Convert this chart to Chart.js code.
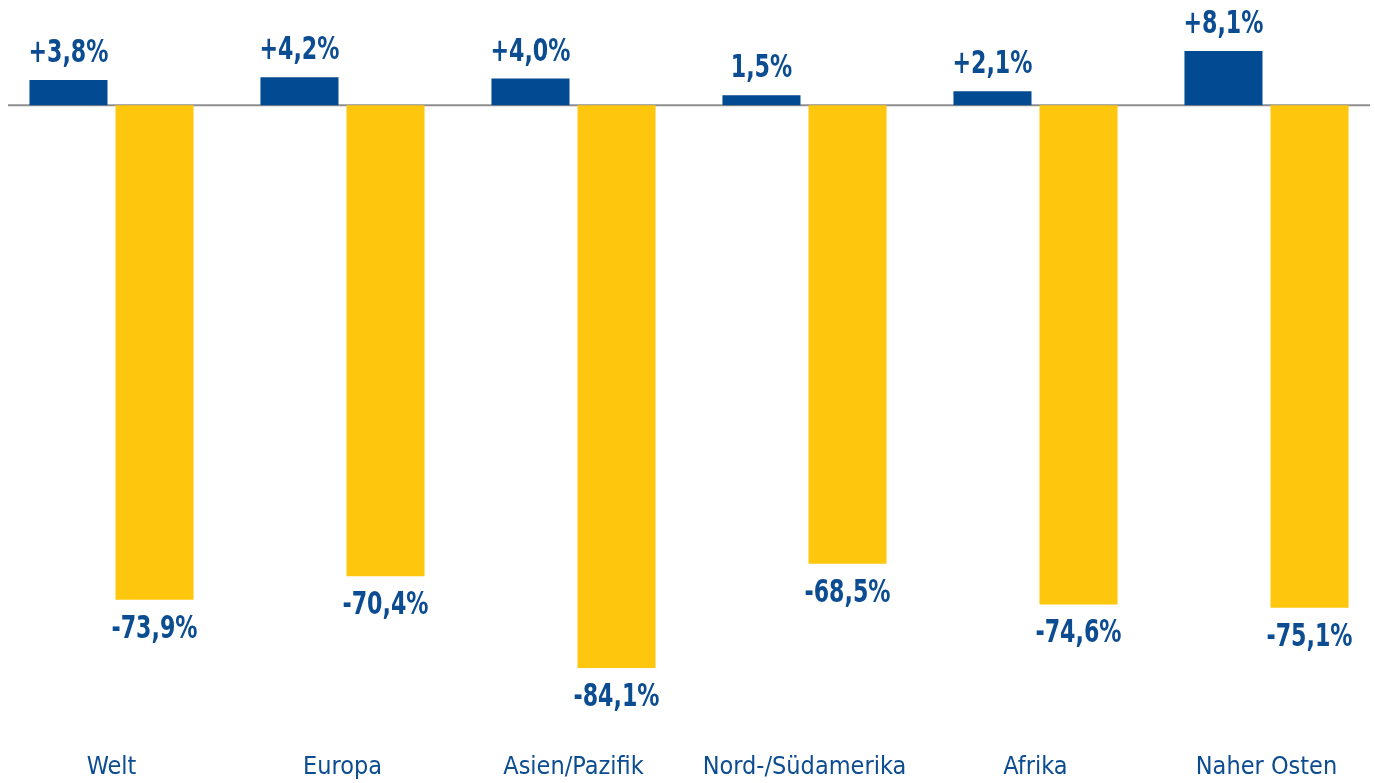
<!DOCTYPE html>
<html lang="de">
<head>
<meta charset="utf-8">
<title>Veränderung nach Regionen</title>
<script src="https://cdn.jsdelivr.net/npm/chart.js@4/dist/chart.umd.min.js"></script>
<style>
    html, body { margin: 0; padding: 0; background: #fff; overflow: hidden; }
    #wrap { position: absolute; left: -4px; top: 0; width: 1386px; height: 783px; }
</style>
</head>
<body>
<div id="wrap"><canvas id="regionChart" width="1386" height="783"></canvas></div>
<script>
const regions = ['Welt', 'Europa', 'Asien/Pazifik', 'Nord-/Südamerika', 'Afrika', 'Naher Osten'];
const growth = [3.8, 4.2, 4.0, 1.5, 2.1, 8.1];
const decline = [-73.9, -70.4, -84.1, -68.5, -74.6, -75.1];
const growthLabels = ['+3,8%', '+4,2%', '+4,0%', '1,5%', '+2,1%', '+8,1%'];
const declineLabels = ['-73,9%', '-70,4%', '-84,1%', '-68,5%', '-74,6%', '-75,1%'];

const BLUE = '#024a91';
const YELLOW = '#fec70d';
const TEXT = '#0c4c91';
const FONT = "'DejaVu Sans Condensed', 'Liberation Sans Narrow', sans-serif";

document.addEventListener('DOMContentLoaded', function() {
    initializeRegionChart();
});

// zero line under the bars
const zeroLine = {
    id: 'zeroLine',
    beforeDatasetsDraw(chart) {
        const { ctx, chartArea, scales } = chart;
        const y = scales.y.getPixelForValue(0);
        ctx.save();
        ctx.strokeStyle = '#8f8f8f';
        ctx.lineWidth = 2;
        ctx.beginPath();
        ctx.moveTo(chartArea.left + 12, y);
        ctx.lineTo(chartArea.right - 12, y);
        ctx.stroke();
        ctx.restore();
    }
};

// percentage labels above / below each bar (narrowed to look condensed)
function drawNarrow(ctx, text, x, y) {
    ctx.save();
    ctx.translate(x, y);
    ctx.scale(0.77, 1);
    ctx.fillText(text, 0, 0);
    ctx.restore();
}

const valueLabels = {
    id: 'valueLabels',
    afterDatasetsDraw(chart) {
        const { ctx } = chart;
        ctx.save();
        ctx.fillStyle = TEXT;
        ctx.font = 'bold 32px ' + FONT;
        ctx.textAlign = 'center';
        ctx.textBaseline = 'alphabetic';
        chart.getDatasetMeta(0).data.forEach(function(bar, i) {
            drawNarrow(ctx, growthLabels[i], bar.x, bar.y - 18);
        });
        chart.getDatasetMeta(1).data.forEach(function(bar, i) {
            drawNarrow(ctx, declineLabels[i], bar.x, bar.y + 38);
        });
        ctx.restore();
    }
};

function initializeRegionChart() {
    const ctx = document.getElementById('regionChart').getContext('2d');

    new Chart(ctx, {
        type: 'bar',
        data: {
            labels: regions,
            datasets: [
                {
                    label: 'Wachstum',
                    data: growth,
                    backgroundColor: BLUE,
                    categoryPercentage: 0.745,
                    barPercentage: 0.907
                },
                {
                    label: 'Rückgang',
                    data: decline,
                    backgroundColor: YELLOW,
                    categoryPercentage: 0.745,
                    barPercentage: 0.907
                }
            ]
        },
        options: {
            responsive: false,
            animation: false,
            layout: { padding: 0 },
            plugins: {
                legend: { display: false },
                tooltip: { enabled: false }
            },
            scales: {
                y: {
                    display: false,
                    min: -96.5,
                    max: 15.74
                },
                x: {
                    grid: { display: false, drawTicks: false, tickLength: 0 },
                    border: { display: false },
                    ticks: {
                        color: TEXT,
                        padding: 1,
                        maxRotation: 0,
                        autoSkip: false,
                        font: { family: FONT, size: 25 }
                    }
                }
            }
        },
        plugins: [zeroLine, valueLabels]
    });
}
</script>
</body>
</html>
